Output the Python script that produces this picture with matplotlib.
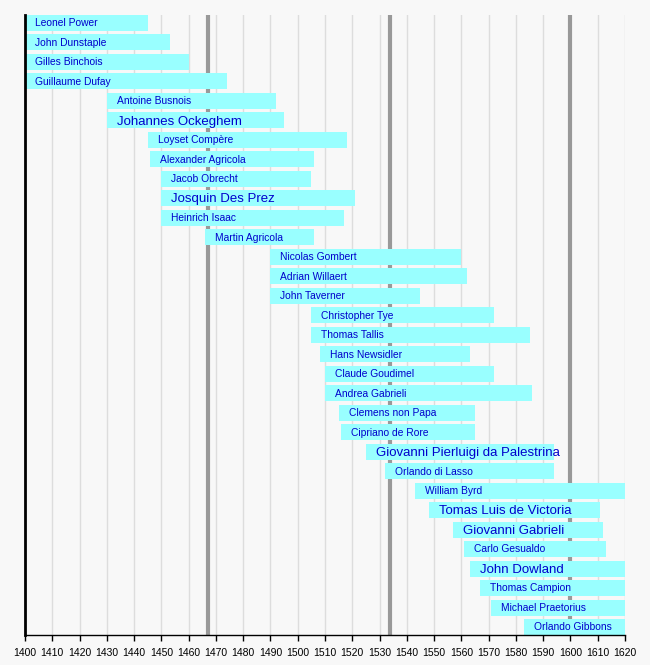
import matplotlib
matplotlib.use("Agg")
import matplotlib.pyplot as plt

names = ["Leonel Power", "John Dunstaple", "Gilles Binchois", "Guillaume Dufay",
         "Antoine Busnois", "Johannes Ockeghem", "Loyset Compère", "Alexander Agricola",
         "Jacob Obrecht", "Josquin Des Prez", "Heinrich Isaac", "Martin Agricola",
         "Nicolas Gombert", "Adrian Willaert", "John Taverner", "Christopher Tye",
         "Thomas Tallis", "Hans Newsidler", "Claude Goudimel", "Andrea Gabrieli",
         "Clemens non Papa", "Cipriano de Rore", "Giovanni Pierluigi da Palestrina",
         "Orlando di Lasso", "William Byrd", "Tomas Luis de Victoria",
         "Giovanni Gabrieli", "Carlo Gesualdo", "John Dowland", "Thomas Campion",
         "Michael Praetorius", "Orlando Gibbons"]
starts = [1400, 1400, 1400, 1400, 1430, 1430, 1445, 1446, 1450, 1450, 1450, 1466,
          1490, 1490, 1490, 1505, 1505, 1508, 1510, 1510, 1515, 1516, 1525, 1532,
          1543, 1548, 1557, 1561, 1563, 1567, 1571, 1583]
ends = [1445, 1453, 1460, 1474, 1492, 1495, 1518, 1506, 1505, 1521, 1517, 1506,
        1560, 1562, 1545, 1572, 1585, 1563, 1572, 1586, 1565, 1565, 1594, 1594,
        1620, 1611, 1612, 1613, 1620, 1620, 1620, 1620]
big = ["Johannes Ockeghem", "Josquin Des Prez", "Giovanni Pierluigi da Palestrina",
       "Tomas Luis de Victoria", "Giovanni Gabrieli", "John Dowland"]
era_lines = [1467, 1534, 1600]
xticks = list(range(1400, 1621, 10))

bg = "#f8f8f8"
fig = plt.figure(figsize=(6.5, 6.65), dpi=100, facecolor=bg)
ax = fig.add_axes([25/650, 30/665, 600/650, 620/665], facecolor=bg)

for x in xticks[1:]:
    ax.axvline(x, color="#dddddd", lw=1.0, zorder=0)
for x in era_lines:
    ax.axvline(x, color="#999999", lw=3.0, zorder=1)

h = 0.82
for i, (n, s, e) in enumerate(zip(names, starts, ends)):
    ax.barh(i, e - s, left=s, height=h, color="#99ffff", zorder=2, linewidth=0)
    fs = 9.5 if n in big else 7.4
    ax.annotate(n, xy=(s, i), xytext=(7.2, -0.8 if n in big else -0.3),
                textcoords="offset points",
                va="center", ha="left", fontsize=fs, color="#0000cc",
                family="Liberation Sans", zorder=3)

ax.set_xlim(1400, 1620)
ax.set_ylim(len(names) - 1 + h/2, -h/2)
ax.set_yticks([])
ax.set_xticks(xticks)
ax.set_xticklabels([str(x) for x in xticks], family="Liberation Sans", fontsize=7.5)
ax.tick_params(axis="x", length=4, width=1, color="black", pad=5)
for sp in ["top", "right"]:
    ax.spines[sp].set_visible(False)
ax.spines["left"].set_linewidth(2)
ax.spines["bottom"].set_linewidth(1)
ax.spines["left"].set_zorder(4)

fig.savefig("out.png", dpi=100, facecolor=bg)
